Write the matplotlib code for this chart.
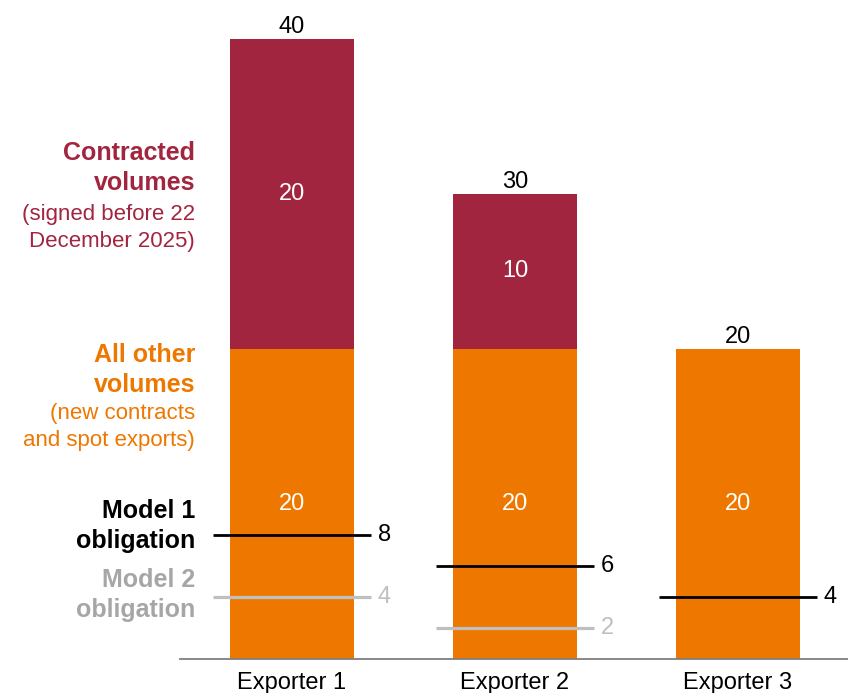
import numpy as np
import matplotlib.pyplot as plt

plt.rcParams['font.family'] = ['Liberation Sans', 'DejaVu Sans']

# data
exporters = ['Exporter 1', 'Exporter 2', 'Exporter 3']
other_volumes = [20, 20, 20]
contracted_volumes = [20, 10, 0]
model1_obligation = [8, 6, 4]
model2_obligation = [4, 2, None]

red = '#A2253F'
orange = '#EE7700'
grey = '#BFBFBF'

fig = plt.figure(figsize=(8.48, 6.93), dpi=100)
W, H = 848, 693
px_per_unit = 15.5
ax = fig.add_axes([180 / W, 34 / H, 668 / W, 649 / H])

x = np.arange(len(exporters))
bar_w = 0.556
line_half = 0.354

ax.bar(x, other_volumes, width=bar_w, color=orange, zorder=2)
ax.bar(x, contracted_volumes, width=bar_w, bottom=other_volumes, color=red, zorder=2)

totals = [a + b for a, b in zip(other_volumes, contracted_volumes)]
for i in range(len(x)):
    ax.text(x[i], other_volumes[i] / 2, str(other_volumes[i]), ha='center', va='center',
            color='white', fontsize=17, zorder=4)
    if contracted_volumes[i]:
        ax.text(x[i], other_volumes[i] + contracted_volumes[i] / 2, str(contracted_volumes[i]),
                ha='center', va='center', color='white', fontsize=17, zorder=4)
    ax.annotate(str(totals[i]), (x[i], totals[i]), xytext=(0, 1), textcoords='offset points',
                ha='center', va='bottom', fontsize=17, color='black')

    # obligation lines
    ax.plot([x[i] - line_half, x[i] + line_half], [model1_obligation[i]] * 2,
            color='black', lw=2, solid_capstyle='butt', zorder=3, clip_on=False)
    ax.annotate(str(model1_obligation[i]), (x[i] + line_half, model1_obligation[i]),
                xytext=(5, 0), textcoords='offset points', ha='left', va='center',
                fontsize=17, color='black')
    if model2_obligation[i] is not None:
        ax.plot([x[i] - line_half, x[i] + line_half], [model2_obligation[i]] * 2,
                color=grey, lw=2.3, solid_capstyle='butt', zorder=3)
        ax.annotate(str(model2_obligation[i]), (x[i] + line_half, model2_obligation[i]),
                    xytext=(5, 0), textcoords='offset points', ha='left', va='center',
                    fontsize=17, color=grey)

ax.set_xlim(-0.502, 2.494)
ax.set_ylim(0, 649 / px_per_unit)
ax.set_xticks(x)
ax.set_xticklabels(exporters, fontsize=17)
ax.tick_params(axis='x', length=0, pad=9)
ax.set_yticks([])
for s in ['top', 'right', 'left']:
    ax.spines[s].set_visible(False)
ax.spines['bottom'].set_color('#7F7F7F')
ax.spines['bottom'].set_linewidth(1.3)

# left side legend labels
lx = 195 / W


def side_label(y_px, text, color, bold):
    fig.text(lx, 1 - y_px / H, text, ha='right', va='center', color=color,
             fontsize=18 if bold else 16, fontweight='bold' if bold else 'normal',
             linespacing=1.32)


side_label(168, 'Contracted\nvolumes', red, True)
side_label(228, '(signed before 22\nDecember 2025)', red, False)
side_label(370, 'All other\nvolumes', orange, True)
side_label(427, '(new contracts\nand spot exports)', orange, False)
side_label(526, 'Model 1\nobligation', 'black', True)
side_label(595, 'Model 2\nobligation', '#A6A6A6', True)

fig.savefig('out.png', dpi=100)
